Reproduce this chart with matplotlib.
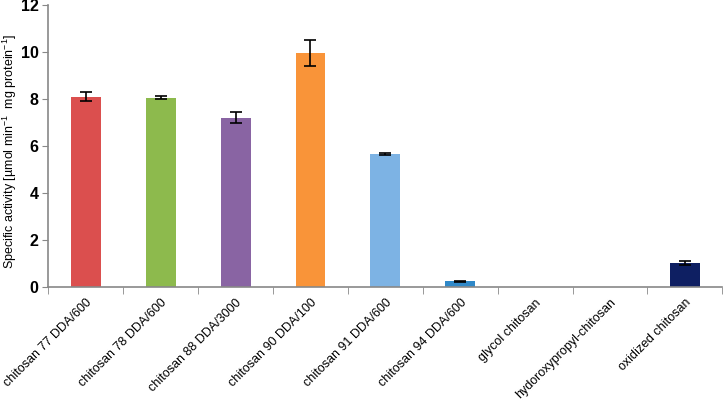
import numpy as np
import matplotlib.pyplot as plt

plt.rcParams['font.family'] = ['Liberation Sans', 'DejaVu Sans']
plt.rcParams['mathtext.fontset'] = 'custom'
plt.rcParams['mathtext.rm'] = 'Liberation Sans'

categories = ["chitosan 77 DDA/600", "chitosan 78 DDA/600", "chitosan 88 DDA/3000",
              "chitosan 90 DDA/100", "chitosan 91 DDA/600", "chitosan 94 DDA/600",
              "glycol chitosan", "hydoroxypropyl-chitosan", "oxidized chitosan"]
activity = [8.1, 8.07, 7.22, 9.97, 5.67, 0.24, 0.0, 0.0, 1.04]
errors = [0.19, 0.05, 0.24, 0.57, 0.04, 0.03, 0.0, 0.0, 0.08]
colors = ["#DB4F4E", "#8DBA4D", "#8964A3", "#F99439", "#7DB3E4", "#2F88C8",
          "#2F88C8", "#2F88C8", "#0E1F62"]

fig = plt.figure(figsize=(7.23, 4.01), dpi=100)
ax = fig.add_axes([0.067, 0.284, 0.932, 0.703])

x = np.arange(len(categories))
act = np.array(activity)
err = np.array(errors)
ax.bar(x, act, width=0.4, color=colors, zorder=2)
has = act > 0
ax.errorbar(x[has], act[has], yerr=err[has], fmt='none',
            ecolor='black', elinewidth=1.2, capsize=4, capthick=1.2, zorder=3)

ax.set_xlim(-0.5, len(categories) - 0.5)
ax.set_ylim(0, 12)
ax.set_yticks(range(0, 13, 2))
ax.set_yticklabels([str(v) for v in range(0, 13, 2)], fontweight='bold', fontsize=11.5)

ax.set_xticks(x)
ax.set_xticklabels(categories, rotation=45, ha='right', rotation_mode='anchor', fontsize=9)
ax.set_xticks(np.arange(-0.5, len(categories), 1), minor=True)
ax.tick_params(axis='x', which='major', length=0, pad=7)
ax.tick_params(axis='x', which='minor', length=5, color='#888888', direction='out')
ax.tick_params(axis='y', length=4, color='#888888', direction='out', pad=3)

for side in ['top', 'right']:
    ax.spines[side].set_visible(False)
for side in ['left', 'bottom']:
    ax.spines[side].set_color('#888888')
    ax.spines[side].set_linewidth(1.2)

ax.set_ylabel("Specific activity [µmol min$^{-1}$  mg protein$^{-1}$]", fontsize=9)
ax.yaxis.set_label_coords(-0.043, 0.48)

fig.savefig("out.png", dpi=100)
